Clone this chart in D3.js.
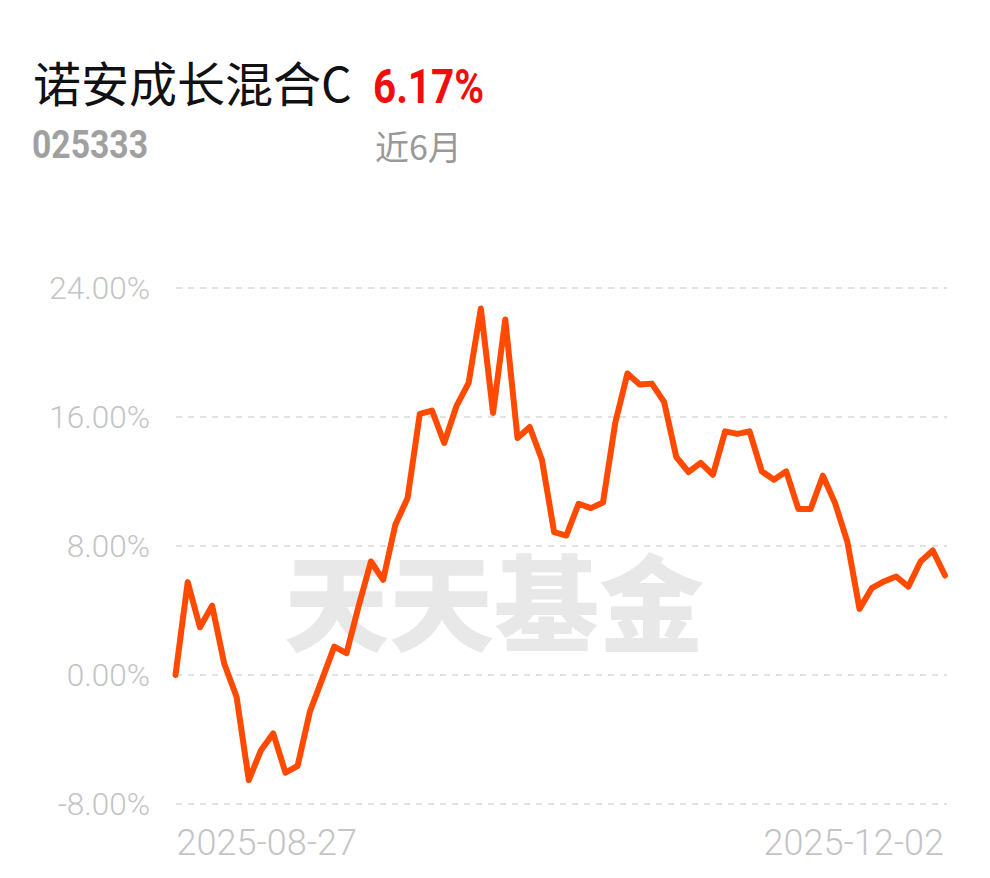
<!DOCTYPE html>
<html>
<head>
<meta charset="utf-8">
<script src="https://cdn.jsdelivr.net/npm/d3@7"></script>
<style>
  html, body { margin: 0; padding: 0; background: #fff; }
  svg { display: block; }
</style>
</head>
<body>
<svg id="chart" width="990" height="878"></svg>
<script>
const fundName = "诺安成长混合C";
const fundCode = "025333";
const periodReturn = "6.17%";
const periodLabel = "近6月";
const watermark = "天天基金";

const returns = [0, 5.76, 2.96, 4.30, 0.68, -1.35, -6.52, -4.66, -3.62, -6.05, -5.63, -2.28, -0.27, 1.76, 1.35, 4.30,
  7.04, 5.90, 9.32, 10.97, 16.19, 16.40, 14.39, 16.67, 18.12, 22.73, 16.25, 22.05, 14.70, 15.38, 13.35, 8.86,
  8.65, 10.62, 10.35, 10.70, 15.63, 18.70, 18.01, 18.07, 16.94, 13.52, 12.59, 13.15, 12.42, 15.11, 14.95, 15.11,
  12.63, 12.11, 12.63, 10.29, 10.29, 12.36, 10.66, 8.28, 4.10, 5.38, 5.80, 6.11, 5.48, 7.04, 7.72, 6.17];
const yTicks = [24, 16, 8, 0, -8];
const xLabels = ["2025-08-27", "2025-12-02"];

const svg = d3.select("#chart");

// Header
svg.append("text").attr("x", 33).attr("y", 102)
  .attr("font-family", "'Noto Sans CJK SC', sans-serif").attr("font-size", 48)
  .attr("fill", "#111").text(fundName);
svg.append("text").attr("x", 373).attr("y", 103)
  .attr("font-family", "Roboto, sans-serif").attr("font-weight", 700).attr("font-size", 48)
  .attr("textLength", 111).attr("lengthAdjust", "spacingAndGlyphs")
  .attr("fill", "#f20d0d").text(periodReturn);
svg.append("text").attr("x", 32).attr("y", 158)
  .attr("font-family", "Roboto, sans-serif").attr("font-weight", 700).attr("font-size", 39)
  .attr("textLength", 116).attr("lengthAdjust", "spacingAndGlyphs")
  .attr("fill", "#a0a0a0").text(fundCode);
svg.append("text").attr("x", 375).attr("y", 160)
  .attr("font-family", "'Noto Sans CJK SC', sans-serif").attr("font-size", 34)
  .attr("fill", "#999").text(periodLabel);

// Scales
const x = d3.scalePoint().domain(d3.range(returns.length)).range([175.5, 945]);
const y = d3.scaleLinear().domain([-8, 24]).range([804, 288]);

// Watermark
svg.append("text").attr("x", 494).attr("y", 643)
  .attr("text-anchor", "middle")
  .attr("font-family", "'Noto Sans CJK SC', sans-serif").attr("font-weight", 900).attr("font-size", 105)
  .attr("fill", "#e8e8e8").text(watermark);

// Grid
const grid = svg.append("g");
grid.selectAll("line").data(yTicks).join("line")
  .attr("x1", 176).attr("x2", 947)
  .attr("y1", d => y(d)).attr("y2", d => y(d))
  .attr("stroke", "#e2e2e2").attr("stroke-width", 2).attr("stroke-dasharray", "6,6");

// Y axis labels
const yAxis = d3.axisLeft(y).tickValues(yTicks).tickSize(0).tickPadding(0)
  .tickFormat(d => d.toFixed(2) + "%");
const yg = svg.append("g").attr("transform", "translate(150,0)").call(yAxis);
yg.select(".domain").remove();
yg.selectAll("text").attr("font-family", "Roboto, sans-serif").attr("font-weight", 300).attr("font-size", 31.5)
  .attr("fill", "#c4c4c4").attr("dy", "0.32em").attr("text-anchor", "end");

// X labels
const xIdx = [0, returns.length - 1];
svg.append("g").selectAll("text").data(xIdx).join("text")
  .attr("x", (d, i) => i === 0 ? x(d) + 1 : x(d) - 1)
  .attr("y", 855)
  .attr("text-anchor", (d, i) => i === 0 ? "start" : "end")
  .attr("font-family", "Roboto, sans-serif").attr("font-weight", 300).attr("font-size", 36)
  .attr("fill", "#c4c4c4")
  .text((d, i) => xLabels[i]);

// Line
const line = d3.line().x((d, i) => x(i)).y(d => y(d));
svg.append("path").datum(returns)
  .attr("d", line)
  .attr("fill", "none").attr("stroke", "#ff4a00").attr("stroke-width", 6)
  .attr("stroke-linejoin", "round").attr("stroke-linecap", "round");
</script>
</body>
</html>
